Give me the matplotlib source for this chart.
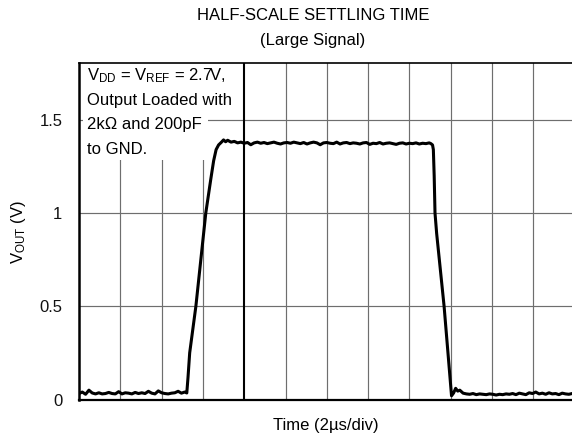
import matplotlib
matplotlib.use("Agg")
import matplotlib.pyplot as plt
from matplotlib.patches import Rectangle

plt.rcParams['font.family'] = ['Liberation Sans', 'DejaVu Sans']
plt.rcParams['mathtext.fontset'] = 'custom'
plt.rcParams['mathtext.rm'] = 'Liberation Sans'
plt.rcParams['mathtext.it'] = 'Liberation Sans:italic'
plt.rcParams['mathtext.bf'] = 'Liberation Sans:bold'

# ---------------- data (time in divisions of 2 us, voltage in V) ----------------
time_div = [
    0.00, 0.08, 0.16, 0.24, 0.32, 0.40, 0.48, 0.56, 0.64, 0.72, 0.80, 0.88, 0.96,
    1.04, 1.12, 1.20, 1.28, 1.36, 1.44, 1.52, 1.60, 1.68, 1.76, 1.84, 1.92, 2.00,
    2.08, 2.16, 2.24, 2.32, 2.40, 2.48, 2.56,
    2.61, 2.64, 2.68, 2.83, 3.07, 3.19, 3.26, 3.32, 3.38, 3.45, 3.50, 3.55, 3.60,
    3.68, 3.76, 3.84, 3.92, 4.00, 4.08, 4.16, 4.24, 4.32, 4.40, 4.48, 4.56, 4.64,
    4.72, 4.80, 4.88, 4.96, 5.04, 5.12, 5.20, 5.28, 5.36, 5.44, 5.52, 5.60, 5.68,
    5.76, 5.84, 5.92, 6.00, 6.08, 6.16, 6.24, 6.32, 6.40, 6.48, 6.56, 6.64, 6.72,
    6.80, 6.88, 6.96, 7.04, 7.12, 7.20, 7.28, 7.36, 7.44, 7.52, 7.60, 7.68, 7.76,
    7.84, 7.92, 8.00, 8.08, 8.16, 8.24, 8.32, 8.40, 8.48,
    8.52, 8.56, 8.58, 8.60, 8.62, 8.66, 8.84, 9.02, 9.07, 9.12, 9.17, 9.22,
    9.30, 9.38, 9.46, 9.54, 9.62, 9.70, 9.78, 9.86, 9.94, 10.02, 10.10, 10.18,
    10.26, 10.34, 10.42, 10.50, 10.58, 10.66, 10.74, 10.82, 10.90, 10.98, 11.06,
    11.14, 11.22, 11.30, 11.38, 11.46, 11.54, 11.62, 11.70, 11.78, 11.86, 11.94,
]
vout = [
    0.032, 0.040, 0.028, 0.050, 0.035, 0.030, 0.036, 0.030, 0.032, 0.038, 0.032, 0.030, 0.042,
    0.030, 0.036, 0.034, 0.030, 0.038, 0.032, 0.036, 0.032, 0.044, 0.034, 0.030, 0.046, 0.036,
    0.032, 0.030, 0.034, 0.036, 0.044, 0.034, 0.040,
    0.035, 0.120, 0.250, 0.500, 1.000, 1.180, 1.280, 1.340, 1.365, 1.380, 1.392, 1.382, 1.390,
    1.380, 1.384, 1.376, 1.380, 1.374, 1.378, 1.366, 1.376, 1.380, 1.374, 1.378, 1.372, 1.376,
    1.380, 1.374, 1.370, 1.376, 1.378, 1.374, 1.380, 1.376, 1.372, 1.378, 1.370, 1.376, 1.380,
    1.376, 1.366, 1.376, 1.378, 1.374, 1.372, 1.380, 1.370, 1.376, 1.378, 1.372, 1.376, 1.374,
    1.370, 1.376, 1.378, 1.368, 1.374, 1.372, 1.378, 1.370, 1.374, 1.376, 1.372, 1.368, 1.374,
    1.376, 1.370, 1.374, 1.372, 1.376, 1.370, 1.374, 1.372, 1.376,
    1.372, 1.365, 1.340, 1.200, 1.000, 0.890, 0.500, 0.020, 0.035, 0.060, 0.045, 0.050,
    0.034, 0.030, 0.028, 0.032, 0.026, 0.030, 0.028, 0.026, 0.030, 0.028, 0.024, 0.028,
    0.026, 0.030, 0.028, 0.032, 0.026, 0.034, 0.030, 0.026, 0.036, 0.032, 0.040,
    0.030, 0.034, 0.028, 0.036, 0.030, 0.032, 0.026, 0.034, 0.030, 0.028, 0.032,
]
y_ticks = [0, 0.5, 1, 1.5]
y_tick_labels = ['0', '0.5', '1', '1.5']
x_grid = [1, 2, 3, 4, 5, 6, 7, 8, 9, 10, 11]
x_major = 4

title_lines = ['HALF-SCALE SETTLING TIME', '(Large Signal)']
note_lines = [r'V$_{\rm DD}$ = V$_{\rm REF}$ = 2.7V,', 'Output Loaded with',
              '2k\u03a9 and 200pF', 'to GND.']
x_label = 'Time (2\u00b5s/div)'
y_label = r'V$_{\rm OUT}$ (V)'

# ---------------- figure ----------------
W, H = 572, 438
fig = plt.figure(figsize=(W / 100, H / 100), dpi=100)
L, B, T = 79, 399.5, 63
ax = fig.add_axes([L / W, 1 - B / H, 1 - L / W, (B - T) / H])
ax.set_xlim(0, (W - L) / 41.3)
ax.set_ylim(0, (B - T) / 186.5)

grid_col = '#6e6e6e'
for xg in x_grid:
    if xg == x_major:
        ax.axvline(xg, color='black', lw=1.5, zorder=0.8)
    else:
        ax.axvline(xg, color=grid_col, lw=0.85, zorder=0.6)
for yg in y_ticks[1:]:
    ax.axhline(yg, color=grid_col, lw=0.85, zorder=0.6)

# white background behind the note
ax.add_patch(Rectangle((0.1, 1.284), 3.02, 1.0, facecolor='white',
                       edgecolor='none', zorder=1))

ax.plot(time_div, vout, color='black', lw=2.2, zorder=3,
        solid_joinstyle='round')

ax.set_xticks([])
ax.set_yticks(y_ticks)
ax.set_yticklabels(y_tick_labels)
ax.tick_params(axis='y', length=0, pad=12, labelsize=12, colors='#111111')

for s in ['left', 'bottom', 'top']:
    ax.spines[s].set_color('black')
ax.spines['left'].set_linewidth(1.8)
ax.spines['bottom'].set_linewidth(1.6)
ax.spines['top'].set_linewidth(1.2)
ax.spines['right'].set_visible(False)

# note text
for line, base in zip(note_lines, [80.7, 105, 129.5, 154]):
    fig.text(87 / W, 1 - base / H, line, fontsize=12, ha='left', va='baseline',
             color='black', zorder=5)

# titles & labels
fig.text(313 / W, 1 - 20.5 / H, title_lines[0], fontsize=12, ha='center',
         va='baseline', color='black')
fig.text(313 / W, 1 - 45 / H, title_lines[1], fontsize=12, ha='center',
         va='baseline', color='black')
fig.text(326 / W, 1 - 430 / H, x_label, fontsize=12, ha='center',
         va='baseline', color='black')
fig.text(18 / W, 1 - 232 / H, y_label, fontsize=12, ha='center',
         va='center', rotation=90, color='black')

fig.savefig('out.png', dpi=100)
